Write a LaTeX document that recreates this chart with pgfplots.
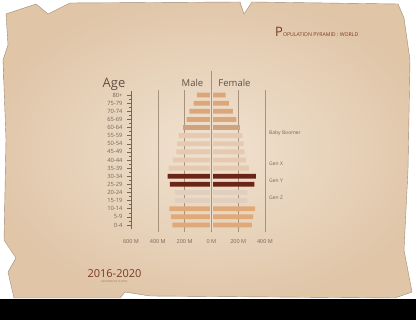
\documentclass[border=0pt]{standalone}
\usepackage{pgfplots}
\pgfplotsset{compat=1.18}
\usepackage{fontspec}
\setmainfont{Open Sans}
\setsansfont{Open Sans}
\definecolor{paperout}{HTML}{E0C5A7}
\definecolor{paperin}{HTML}{F0E2D1}
\definecolor{tanc}{HTML}{E0A97A}
\definecolor{tantop}{HTML}{DBA679}
\definecolor{tanmid}{HTML}{CFA37F}
\definecolor{pale}{HTML}{E5C9B0}
\definecolor{palez}{HTML}{E0CFBD}
\definecolor{darkb}{HTML}{6B2516}
\definecolor{gridc}{HTML}{A8927E}
\definecolor{labc}{HTML}{7A6556}
\definecolor{titlec}{HTML}{7A3A22}
\definecolor{gapc}{HTML}{EDDCC8}
\begin{document}
\begin{tikzpicture}[x=1pt,y=1pt]
\path[use as bounding box] (0,0) rectangle (416,320);
\fill[white] (0,0) rectangle (416,320);
\begin{scope}
\clip (6,306)--(36,316)--(48,306)--(70,317)--(240,318)--(244,306)--(252,318)--(398,316)--(404,302)--(410,260)--(408,150)--(404,70)--(412,28)--(395,22)--(150,24)--(125,28)--(120,22)--(14,22)--(8,48)--(16,62)--(4,80)--(6,180)--(3,260)--(8,275)--cycle;
\shade[inner color=paperin, outer color=paperout] (-20,10) rectangle (440,330);
\end{scope}
\draw[paperout!70!black, line width=0.4pt] (6,306)--(36,316)--(48,306)--(70,317)--(240,318)--(244,306)--(252,318)--(398,316)--(404,302)--(410,260)--(408,150)--(404,70)--(412,28)--(395,22)--(150,24)--(125,28)--(120,22)--(14,22)--(8,48)--(16,62)--(4,80)--(6,180)--(3,260)--(8,275)--cycle;
\fill[black] (0,0) rectangle (416,21);

\begin{axis}[
  at={(131pt,91pt)}, anchor=south west, scale only axis,
  width=134pt, height=138pt,
  xmin=-600, xmax=400, ymin=-0.5, ymax=16.5,
  axis x line*=bottom, axis y line*=left,
  x axis line style={draw=none},
  y axis line style={draw=labc, line width=0.5pt},
  xtick={-600,-400,-200,0,200,400},
  xticklabels={600 M,400 M,200 M,0 M,200 M,400 M},
  xtick style={draw=none},
  xticklabel style={font=\fontsize{5.5}{6}\selectfont, text=labc, yshift=-5pt},
  ytick={0,...,16},
  yticklabels={0-4,5-9,10-14,15-19,20-24,25-29,30-34,35-39,40-44,45-49,50-54,55-59,60-64,65-69,70-74,75-79,80+},
  minor y tick num=1,
  tick align=center, major tick length=4pt, minor tick length=2.5pt,
  ytick style={draw=labc, line width=0.5pt},
  yticklabel style={font=\fontsize{5.8}{6}\selectfont, text=labc, xshift=-1pt},
  clip=false,
  xbar, bar width=4.8pt, bar shift=0pt,
]
% grid lines behind bars
\draw[gridc, line width=0.5pt] (axis cs:-400,-0.9)--(axis cs:-400,16.6);
\draw[gridc, line width=0.5pt] (axis cs:-200,-0.9)--(axis cs:-200,16.6);
\draw[gridc, line width=0.5pt] (axis cs:200,-0.9)--(axis cs:200,16.6);
\draw[gridc, line width=0.5pt] (axis cs:400,-0.9)--(axis cs:400,16.6);
% male
\addplot[draw=none, fill=tanc] coordinates {(-292,0) (-302,1) (-314,2)};
\addplot[draw=none, fill=palez] coordinates {(-272,3) (-272,4)};
\addplot[draw=none, fill=darkb] coordinates {(-309,5) (-327,6)};
\addplot[draw=none, fill=pale] coordinates {(-320,7) (-288,8) (-262,9) (-255,10) (-245,11)};
\addplot[draw=none, fill=tanmid] coordinates {(-209,12)};
\addplot[draw=none, fill=tantop] coordinates {(-184,13) (-164,14) (-133,15) (-108,16)};
% female
\addplot[draw=none, fill=tanc] coordinates {(302,0) (312,1) (327,2)};
\addplot[draw=none, fill=palez] coordinates {(269,3) (269,4)};
\addplot[draw=none, fill=darkb] coordinates {(320,5) (332,6)};
\addplot[draw=none, fill=pale] coordinates {(280,7) (258,8) (248,9) (240,10) (232,11)};
\addplot[draw=none, fill=tanmid] coordinates {(211,12)};
\addplot[draw=none, fill=tantop] coordinates {(186,13) (161,14) (131,15) (106,16)};
% center gap and line
\draw[gapc, line width=2.2pt] (axis cs:0,-0.6)--(axis cs:0,16.6);
\draw[gridc, line width=0.5pt] (axis cs:0,-0.9)--(axis cs:0,19);
% generation labels
\node[anchor=west, font=\fontsize{5}{6}\selectfont, text=labc] at (axis cs:405,11.3) {Baby Boomer};
\node[anchor=west, font=\fontsize{5}{6}\selectfont, text=labc] at (axis cs:405,7.6) {Gen X};
\node[anchor=west, font=\fontsize{5}{6}\selectfont, text=labc] at (axis cs:405,5.4) {Gen Y};
\node[anchor=west, font=\fontsize{5}{6}\selectfont, text=labc] at (axis cs:405,3.4) {Gen Z};
\end{axis}

% headers
\node[anchor=center, font=\fontsize{13}{14}\selectfont, text=labc!80!black] at (114,236) {Age};
\node[anchor=center, font=\fontsize{9.5}{10}\selectfont, text=labc!80!black] at (192.5,237) {Male};
\node[anchor=center, font=\fontsize{9.5}{10}\selectfont, text=labc!80!black] at (234.5,237) {Female};
% title
\node[anchor=base west, inner sep=0pt, text=titlec] at (275,283) {\fontsize{13}{13}\selectfont P\fontsize{5.2}{6}\selectfont OPULATION PYRAMID : WORLD};
% bottom-left
\node[anchor=center, font=\fontsize{11}{12}\selectfont, text=titlec] at (114.5,46) {2016-2020};
\node[anchor=center, font=\fontsize{2.6}{3}\selectfont, text=titlec!70] at (114.5,38.5) {GENERATION CHARTS};
\end{tikzpicture}
\end{document}
